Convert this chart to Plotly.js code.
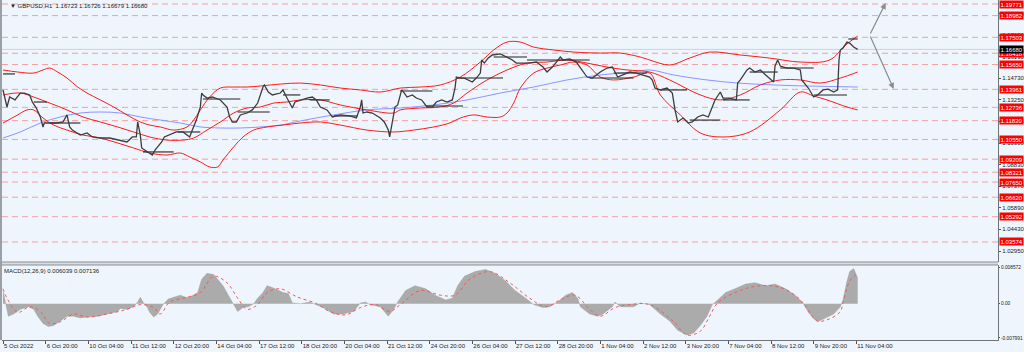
<!DOCTYPE html>
<html><head><meta charset="utf-8">
<script src="https://cdn.plot.ly/plotly-3.0.1.min.js"></script>
<style>html,body{margin:0;padding:0;background:#eef5fd;}#c{width:1024px;height:352px;}</style>
</head><body><div id="c"></div>
<script>
// ---- time axis (H1 bars) ----
const tickBars = [0,32,64,96,128,160,192,224,256,288,320,352,384,416,448,480,512,544,576,608,640];
const tickLabels = ["5 Oct 2022","6 Oct 20:00","10 Oct 04:00","11 Oct 12:00","12 Oct 20:00","14 Oct 04:00","17 Oct 12:00","18 Oct 20:00","20 Oct 04:00","21 Oct 12:00","24 Oct 20:00","26 Oct 04:00","27 Oct 12:00","28 Oct 20:00","1 Nov 04:00","2 Nov 12:00","3 Nov 20:00","7 Nov 04:00","8 Nov 12:00","9 Nov 20:00","11 Nov 04:00"];

// ---- price (close path) ----
const priceBar = [0,3,5,9,13,16,20,22,25,28,30,31,35,40,45,48,50,52,58,63,67,73,80,88,93,97,100,101,103,104,108,112,114,116,119,121,125,130,135,140,142,145,148,149,150,153,157,163,168,170,172,175,178,183,187,191,195,196,199,202,208,210,213,217,219,223,228,232,235,238,243,247,253,260,265,268,269,270,273,277,283,286,289,290,292,294,296,299,301,303,307,310,314,318,322,325,329,333,337,339,340,343,346,349,352,355,358,359,361,364,367,373,378,382,385,390,395,400,405,408,412,415,418,420,425,430,434,438,442,448,453,457,461,465,470,475,480,485,487,489,493,498,502,504,506,510,514,517,521,525,529,532,534,538,540,545,550,551,553,558,560,564,568,572,575,578,579,581,583,588,593,598,599,602,604,608,611,615,619,623,626,627,628,630,633,635,638,641];
const priceClose = [1.1392,1.1276,1.1344,1.1324,1.1371,1.1371,1.1358,1.1310,1.1269,1.1208,1.1140,1.1167,1.1167,1.1167,1.1174,1.1222,1.1140,1.1119,1.1085,1.1099,1.1072,1.1065,1.1065,1.1051,1.1038,1.1072,1.1072,1.1174,1.1085,1.0997,1.0970,1.0949,1.0983,1.1004,1.1038,1.1072,1.1085,1.1106,1.1106,1.1072,1.1119,1.1187,1.1276,1.1371,1.1358,1.1337,1.1344,1.1324,1.1276,1.1208,1.1174,1.1174,1.1222,1.1235,1.1256,1.1303,1.1412,1.1426,1.1378,1.1358,1.1371,1.1392,1.1337,1.1269,1.1310,1.1324,1.1337,1.1344,1.1324,1.1276,1.1256,1.1208,1.1222,1.1215,1.1201,1.1276,1.1324,1.1235,1.1242,1.1235,1.1201,1.1174,1.1119,1.1072,1.1167,1.1276,1.1290,1.1392,1.1371,1.1344,1.1358,1.1337,1.1324,1.1276,1.1276,1.1310,1.1324,1.1310,1.1324,1.1405,1.1480,1.1473,1.1473,1.1460,1.1446,1.1473,1.1507,1.1596,1.1575,1.1610,1.1630,1.1637,1.1616,1.1596,1.1575,1.1575,1.1575,1.1582,1.1548,1.1514,1.1548,1.1582,1.1616,1.1596,1.1603,1.1582,1.1528,1.1480,1.1473,1.1514,1.1541,1.1548,1.1480,1.1494,1.1514,1.1507,1.1494,1.1480,1.1460,1.1405,1.1392,1.1405,1.1371,1.1256,1.1174,1.1201,1.1167,1.1174,1.1208,1.1222,1.1208,1.1276,1.1324,1.1378,1.1337,1.1337,1.1324,1.1439,1.1460,1.1528,1.1541,1.1514,1.1528,1.1494,1.1473,1.1446,1.1555,1.1596,1.1555,1.1541,1.1541,1.1528,1.1460,1.1426,1.1405,1.1344,1.1358,1.1392,1.1398,1.1378,1.1392,1.1596,1.1664,1.1678,1.1718,1.1711,1.1684,1.1668];

// ---- Bollinger-style bands ----
const upperBar = [0,11,23,30,35,41,48,56,63,73,83,93,103,110,118,128,138,143,148,155,163,173,183,193,208,223,238,253,268,283,298,313,328,343,358,368,378,388,398,413,428,448,463,478,485,500,515,530,553,575,598,620,632,641];
const upperVal = [1.1528,1.1514,1.1507,1.1528,1.1541,1.1514,1.1473,1.1412,1.1371,1.1324,1.1276,1.1222,1.1174,1.1153,1.1140,1.1119,1.1140,1.1187,1.1256,1.1344,1.1405,1.1412,1.1412,1.1419,1.1432,1.1439,1.1426,1.1405,1.1392,1.1378,1.1405,1.1412,1.1426,1.1480,1.1582,1.1664,1.1718,1.1718,1.1684,1.1664,1.1650,1.1643,1.1643,1.1616,1.1596,1.1562,1.1609,1.1650,1.1630,1.1609,1.1582,1.1596,1.1698,1.1759];
const middleBar = [0,13,23,35,48,60,73,86,98,110,123,135,143,153,163,173,183,193,203,213,223,238,253,273,293,298,313,328,338,348,363,378,393,408,423,438,453,468,485,500,523,538,553,568,583,598,613,628,641];
const middleVal = [1.1358,1.1371,1.1344,1.1303,1.1256,1.1208,1.1174,1.1140,1.1106,1.1072,1.1051,1.1051,1.1065,1.1119,1.1174,1.1235,1.1269,1.1276,1.1303,1.1310,1.1324,1.1324,1.1290,1.1256,1.1235,1.1256,1.1269,1.1276,1.1303,1.1371,1.1460,1.1528,1.1575,1.1582,1.1596,1.1575,1.1548,1.1528,1.1514,1.1460,1.1358,1.1324,1.1358,1.1426,1.1460,1.1460,1.1439,1.1473,1.1514];
const lowerBar = [0,11,18,23,30,38,48,60,73,86,98,110,123,133,140,148,155,161,165,173,180,188,198,210,223,238,253,273,293,308,323,335,343,353,363,373,378,383,388,398,408,418,428,438,448,458,473,485,493,508,523,540,560,583,598,608,618,633,641];
const lowerVal = [1.1167,1.1222,1.1256,1.1256,1.1201,1.1153,1.1119,1.1085,1.1065,1.1031,1.0997,1.0963,1.0949,1.0963,1.0936,1.0902,1.0868,1.0868,1.0915,1.1004,1.1072,1.1119,1.1140,1.1153,1.1167,1.1174,1.1153,1.1119,1.1106,1.1119,1.1140,1.1167,1.1201,1.1222,1.1208,1.1208,1.1235,1.1303,1.1405,1.1507,1.1541,1.1562,1.1582,1.1562,1.1480,1.1460,1.1480,1.1507,1.1358,1.1222,1.1099,1.1072,1.1106,1.1256,1.1378,1.1351,1.1324,1.1276,1.1256];

// ---- long moving average (blue) ----
const maBar = [0,13,28,43,58,73,88,103,118,133,148,163,178,193,208,223,248,273,298,323,348,373,398,423,448,473,485,503,528,551,578,603,641];
const maVal = [1.1065,1.1106,1.1167,1.1208,1.1235,1.1242,1.1235,1.1208,1.1187,1.1167,1.1140,1.1133,1.1133,1.1140,1.1153,1.1181,1.1222,1.1256,1.1269,1.1290,1.1324,1.1371,1.1412,1.1460,1.1494,1.1514,1.1528,1.1494,1.1460,1.1439,1.1426,1.1419,1.1412];

// ---- daily open segments (black) ----
const segStart = [0,23,35,105,131,150,176,210,230,248,298,318,341,368,393,440,458,493,515,540,560,583,608,634];
const segEnd   = [9,33,58,128,148,178,200,223,245,266,322,345,375,393,440,473,483,513,538,560,581,608,633,641];
const segLevel = [1.1501,1.1310,1.1167,1.0970,1.1106,1.1330,1.1242,1.1358,1.1324,1.1215,1.1385,1.1283,1.1473,1.1616,1.1596,1.1473,1.1507,1.1392,1.1187,1.1324,1.1514,1.1541,1.1358,1.1739];

// ---- horizontal levels (red dashed, labelled) ----
const levels = [1.19771,1.18982,1.17503,1.16418,1.15650,1.13961,1.12736,1.11830,1.10550,1.09209,1.08321,1.07650,1.06620,1.05292,1.03574];
const levelLabels = ["1.19771","1.18982","1.17503","1.16418","1.15650","1.13961","1.12736","1.11830","1.10550","1.09209","1.08321","1.07650","1.06620","1.05292","1.03574"];
const bidPrice = 1.16680;
const bidLabel = "1.16680";
const priceTicks = [1.02950,1.04430,1.05890,1.07370,1.08830,1.10300,1.11770,1.13250,1.14730,1.16190,1.17650,1.19120];
const priceTickText = ["1.02950","1.04430","1.05890","1.07370","1.08830","1.10300","1.11770","1.13250","1.14730","1.16190","1.17650","1.19120"];

// ---- projection arrows ----
const arrowFromBar = [650,650];
const arrowFromPrice = [1.1766,1.1766];
const arrowToBar = [662,668];
const arrowToPrice = [1.1984,1.1399];

// ---- MACD(12,26,9) ----
const macdBar = [0,2,4,8,13,19,23,26,30,34,38,43,48,53,58,63,71,78,86,88,93,98,101,103,105,108,110,113,116,118,120,124,128,133,137,140,146,149,153,158,161,165,169,173,176,180,184,188,191,195,198,202,206,210,214,217,223,230,240,248,255,263,268,272,275,283,289,293,296,302,309,317,324,332,337,341,346,354,362,369,377,384,392,398,405,410,416,422,427,431,433,440,446,450,457,459,463,473,478,485,493,500,506,513,518,523,528,532,536,542,549,557,564,572,579,587,594,600,604,608,611,618,623,628,630,633,635,638,641];
const macdHist = [0.0031,0.0004,-0.0029,-0.0024,-0.0013,-0.0007,-0.0013,-0.0029,-0.0046,-0.0053,-0.0051,-0.0040,-0.0029,-0.0029,-0.0033,-0.0031,-0.0029,-0.0024,-0.0018,-0.0011,-0.0013,-0.0007,0.0004,0.0015,0.0004,-0.0007,-0.0020,-0.0031,-0.0024,-0.0013,-0.0002,0.0011,0.0015,0.0020,0.0015,0.0015,0.0026,0.0057,0.0071,0.0068,0.0057,0.0042,0.0020,-0.0002,-0.0018,-0.0009,-0.0007,0.0000,0.0013,0.0026,0.0042,0.0038,0.0031,0.0026,0.0024,0.0002,0.0000,0.0004,-0.0009,-0.0024,-0.0024,-0.0018,0.0002,0.0004,-0.0002,-0.0007,-0.0029,-0.0013,0.0004,0.0031,0.0042,0.0035,0.0020,0.0009,0.0013,0.0042,0.0064,0.0075,0.0080,0.0071,0.0053,0.0031,0.0013,-0.0002,-0.0009,-0.0007,0.0004,0.0020,0.0026,0.0013,-0.0007,-0.0024,-0.0029,-0.0024,-0.0007,0.0004,-0.0007,-0.0007,0.0002,-0.0002,-0.0024,-0.0040,-0.0062,-0.0073,-0.0068,-0.0051,-0.0029,-0.0002,0.0009,0.0026,0.0035,0.0046,0.0049,0.0042,0.0046,0.0035,0.0020,0.0002,-0.0020,-0.0035,-0.0042,-0.0031,-0.0024,-0.0007,0.0009,0.0053,0.0075,0.0082,0.0060];
const signalBar = [0,3,11,20,28,35,43,53,63,78,93,103,113,118,125,138,148,158,168,176,183,191,198,208,218,223,234,245,257,268,279,290,298,313,328,339,350,365,380,395,407,418,429,440,448,459,470,485,503,513,523,530,536,553,568,583,594,600,611,620,628,630,635,641];
const signalVal = [0.0035,0.0013,-0.0020,-0.0007,-0.0018,-0.0046,-0.0042,-0.0024,-0.0031,-0.0024,-0.0013,-0.0002,-0.0009,-0.0024,0.0004,0.0015,0.0026,0.0064,0.0049,0.0013,-0.0013,-0.0002,0.0026,0.0035,0.0020,0.0013,0.0002,-0.0018,-0.0026,-0.0009,-0.0002,-0.0018,-0.0002,0.0031,0.0020,0.0020,0.0057,0.0075,0.0049,0.0013,-0.0007,0.0009,0.0020,-0.0013,-0.0029,-0.0009,-0.0002,-0.0002,-0.0042,-0.0073,-0.0064,-0.0029,0.0002,0.0031,0.0042,0.0038,0.0020,0.0002,-0.0040,-0.0035,-0.0018,0.0002,0.0053,0.0071];
const macdTicks = [-0.007991,0,0.008572];
const macdTickText = ["-0.007991","0.00","0.008572"];
const chartTitle = "GBPUSD,H1  1.16723 1.16726 1.16679 1.16680";
const macdTitle = "MACD(12,26,9) 0.006039 0.007136";

// ---------- build ----------
const FONT = "Liberation Sans, Arial, sans-serif";
const segX = [], segY = [];
for (let i = 0; i < segStart.length; i++) {
  segX.push(segStart[i], segEnd[i], null);
  segY.push(segLevel[i], segLevel[i], null);
}

const traces = [
  {x: maBar, y: maVal, type: 'scatter', mode: 'lines', line: {color: '#8a96ff', width: 1, shape: 'spline'}, hoverinfo: 'skip'},
  {x: upperBar, y: upperVal, type: 'scatter', mode: 'lines', line: {color: '#ff1a1a', width: 1, shape: 'spline'}, hoverinfo: 'skip'},
  {x: middleBar, y: middleVal, type: 'scatter', mode: 'lines', line: {color: '#ff1a1a', width: 1, shape: 'spline'}, hoverinfo: 'skip'},
  {x: lowerBar, y: lowerVal, type: 'scatter', mode: 'lines', line: {color: '#ff1a1a', width: 1, shape: 'spline'}, hoverinfo: 'skip'},
  {x: segX, y: segY, type: 'scatter', mode: 'lines', line: {color: '#222', width: 1.1}, connectgaps: false, hoverinfo: 'skip'},
  {x: priceBar, y: priceClose, type: 'scatter', mode: 'lines', line: {color: '#3c3c3c', width: 1.3}, hoverinfo: 'skip'},
  {x: macdBar, y: macdHist, xaxis: 'x', yaxis: 'y2', type: 'scatter', mode: 'lines', fill: 'tozeroy', fillcolor: '#ababab', line: {color: '#9a9a9a', width: 0.4}, hoverinfo: 'skip'},
  {x: signalBar, y: signalVal, xaxis: 'x', yaxis: 'y2', type: 'scatter', mode: 'lines', line: {color: '#f25a5a', width: 1, dash: 'dot', shape: 'spline'}, hoverinfo: 'skip'}
];

const shapes = [];
shapes.push({type: 'rect', xref: 'paper', yref: 'paper', x0: -0.003, x1: 0.0, y0: 0, y1: 1, fillcolor: '#9aa0a6', line: {width: 0}});
levels.forEach(v => shapes.push({type: 'line', xref: 'paper', x0: 0, x1: 1, yref: 'y', y0: v, y1: v, line: {color: '#f3a0a0', width: 1, dash: '6px,4px'}, layer: 'below'}));
shapes.push({type: 'line', xref: 'paper', x0: 0, x1: 1, yref: 'y', y0: bidPrice, y1: bidPrice, line: {color: '#cfd3d8', width: 1}, layer: 'below'});
// panel separator & borders
shapes.push({type: 'rect', xref: 'paper', yref: 'paper', x0: 0, x1: 1, y0: 0.2206, y1: 0.2294, fillcolor: '#d8dde3', line: {width: 0}});
shapes.push({type: 'line', xref: 'paper', yref: 'paper', x0: 0, x1: 1, y0: 0.2206, y1: 0.2206, line: {color: '#8a8f96', width: 1}});
shapes.push({type: 'line', xref: 'paper', yref: 'paper', x0: 0, x1: 1, y0: 0.2294, y1: 0.2294, line: {color: '#8a8f96', width: 1}});

const annotations = [];
levels.forEach((v, i) => annotations.push({xref: 'paper', x: 1, xanchor: 'left', xshift: 1, yref: 'y', y: v, yanchor: 'middle', text: levelLabels[i], showarrow: false, bgcolor: '#ff0000', font: {family: FONT, size: 6, color: '#ffffff'}, borderpad: 0.5}));
annotations.push({xref: 'paper', x: 1, xanchor: 'left', xshift: 1, yref: 'y', y: bidPrice, yanchor: 'middle', text: bidLabel, showarrow: false, bgcolor: '#000000', font: {family: FONT, size: 6, color: '#ffffff'}, borderpad: 0.5});
for (let i = 0; i < arrowToBar.length; i++) {
  annotations.push({x: arrowToBar[i], y: arrowToPrice[i], xref: 'x', yref: 'y', ax: arrowFromBar[i], ay: arrowFromPrice[i], axref: 'x', ayref: 'y', showarrow: true, arrowhead: 2, arrowsize: 1, arrowwidth: 1.2, arrowcolor: '#8c8c8c', text: ''});
}
annotations.push({xref: 'paper', yref: 'paper', x: 0.006, y: 0.997, xanchor: 'left', yanchor: 'top', text: '▼ ' + chartTitle, showarrow: false, font: {family: FONT, size: 6, color: '#222'}});
annotations.push({xref: 'paper', yref: 'paper', x: 0.0, y: 0.2185, xanchor: 'left', yanchor: 'top', text: macdTitle, showarrow: false, font: {family: FONT, size: 6, color: '#222'}});

const layout = {
  width: 1024, height: 352,
  margin: {l: 2, r: 26, t: 0, b: 12},
  paper_bgcolor: '#eef5fd', plot_bgcolor: '#eef5fd',
  showlegend: false,
  xaxis: {
    range: [-0.75, 746.25], anchor: 'y2', tickmode: 'array', tickvals: tickBars, ticktext: tickLabels,
    tickangle: 0, ticklabelposition: 'outside right', ticks: 'outside', ticklen: 3, tickcolor: '#555',
    showgrid: false, zeroline: false, showline: true, linecolor: '#6d737a', linewidth: 1, mirror: false,
    tickfont: {family: FONT, size: 6, color: '#222'}
  },
  yaxis: {
    domain: [0.2294, 1], range: [1.02209, 1.20043], side: 'right', tickmode: 'array', tickvals: priceTicks, ticktext: priceTickText,
    ticks: 'outside', ticklen: 2, tickcolor: '#555', showgrid: false, zeroline: false, showline: true, linecolor: '#6d737a', linewidth: 1,
    tickfont: {family: FONT, size: 6, color: '#222'}
  },
  yaxis2: {
    domain: [0, 0.2206], range: [-0.00846, 0.00904], side: 'right', anchor: 'x', tickmode: 'array', tickvals: macdTicks, ticktext: macdTickText,
    ticks: 'outside', ticklen: 1, tickcolor: '#555', showgrid: false, zeroline: false, showline: true, linecolor: '#6d737a', linewidth: 1,
    tickfont: {family: FONT, size: 4.8, color: '#222'}
  },
  shapes: shapes,
  annotations: annotations
};
Plotly.newPlot('c', traces, layout, {staticPlot: true, displayModeBar: false});
</script>
</body></html>
